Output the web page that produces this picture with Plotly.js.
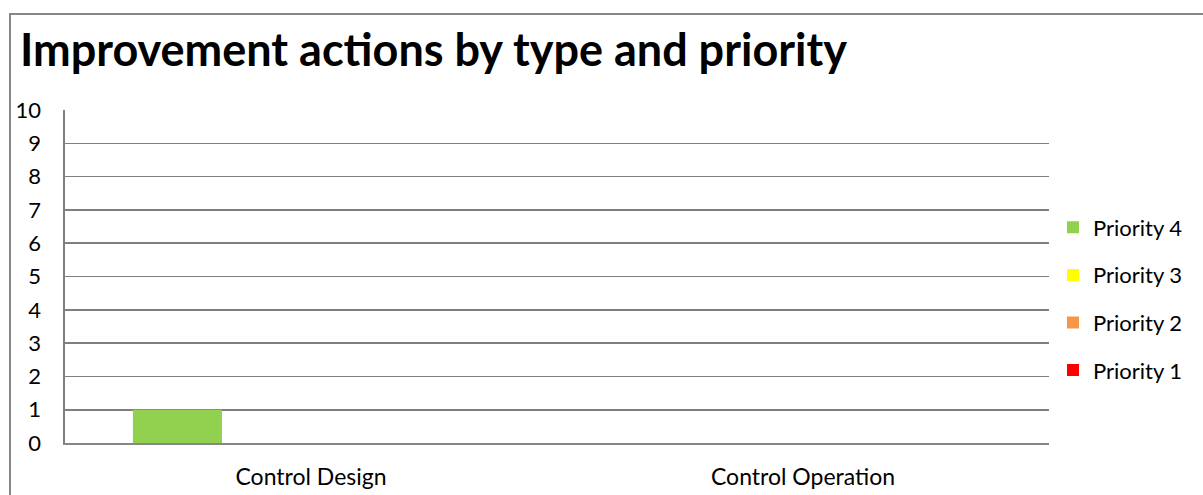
<!DOCTYPE html>
<html><head><meta charset="utf-8">
<script src="https://cdn.plot.ly/plotly-3.0.1.min.js"></script>
<style>
html,body{margin:0;padding:0;background:#fff;}
#wrap{position:relative;width:1203px;height:495px;overflow:hidden;}
#chart{position:absolute;left:0;top:0;width:1203px;height:495px;}
#frame{position:absolute;left:9px;top:13px;width:1300px;height:600px;border:2px solid #878787;pointer-events:none;}
</style></head>
<body>
<div id="wrap"><div id="chart"></div><div id="frame"></div></div>
<script>
const categories = ['Control Design', 'Control Operation'];
const priority4 = [1, 0];
const priority3 = [0, 0];
const priority2 = [0, 0];
const priority1 = [0, 0];
const seriesNames = ['Priority 4', 'Priority 3', 'Priority 2', 'Priority 1'];
const seriesColors = ['#92D050', '#FFFF00', '#F79646', '#FF0000'];
const seriesValues = [priority4, priority3, priority2, priority1];
const yTicks = [0,1,2,3,4,5,6,7,8,9,10];

const FONT = 'Lato, "Open Sans", sans-serif';
const traces = seriesNames.map((n, i) => ({
  type: 'bar', name: n, x: categories, y: seriesValues[i],
  marker: {color: seriesColors[i], line: {width: 0}},
  legendgroup: 'g' + i, hoverinfo: 'none'
}));

const layout = {
  width: 1203, height: 495,
  paper_bgcolor: 'rgba(0,0,0,0)', plot_bgcolor: '#fff',
  margin: {l: 65, r: 154, t: 110, b: 52},
  barmode: 'group', bargap: 0.276, bargroupgap: 0,
  font: {family: FONT, color: '#000', size: 22},
  title: {text: '<b>Improvement actions by type and priority</b>', font: {family: FONT, size: 45, color: '#000'},
          xref: 'container', x: 20/1203, xanchor: 'left', yref: 'container', y: 1 - 50/495, yanchor: 'middle'},
  xaxis: {type: 'category', showgrid: false, showline: true, linecolor: '#868686', linewidth: 1.5,
          ticks: '', ticklabelstandoff: 13, tickfont: {size: 23}},
  yaxis: {range: [0, 10], tickvals: yTicks, ticktext: yTicks.map(String), showgrid: true, gridcolor: '#7f7f7f', gridwidth: 1.6,
          showline: true, linecolor: '#7f7f7f', linewidth: 1.6, zeroline: false, ticks: '', ticklabelstandoff: 18,
          tickfont: {size: 22}, fixedrange: true},
  showlegend: true,
  legend: {x: 1053/1203, xref: 'container', xanchor: 'left', y: 1 - 299/495, yref: 'container', yanchor: 'middle',
           traceorder: 'grouped', tracegroupgap: 16, font: {size: 22}, itemwidth: 30, bgcolor: 'rgba(0,0,0,0)'}
};
Plotly.newPlot('chart', traces, layout, {staticPlot: true, displayModeBar: false});
</script>
</body></html>
